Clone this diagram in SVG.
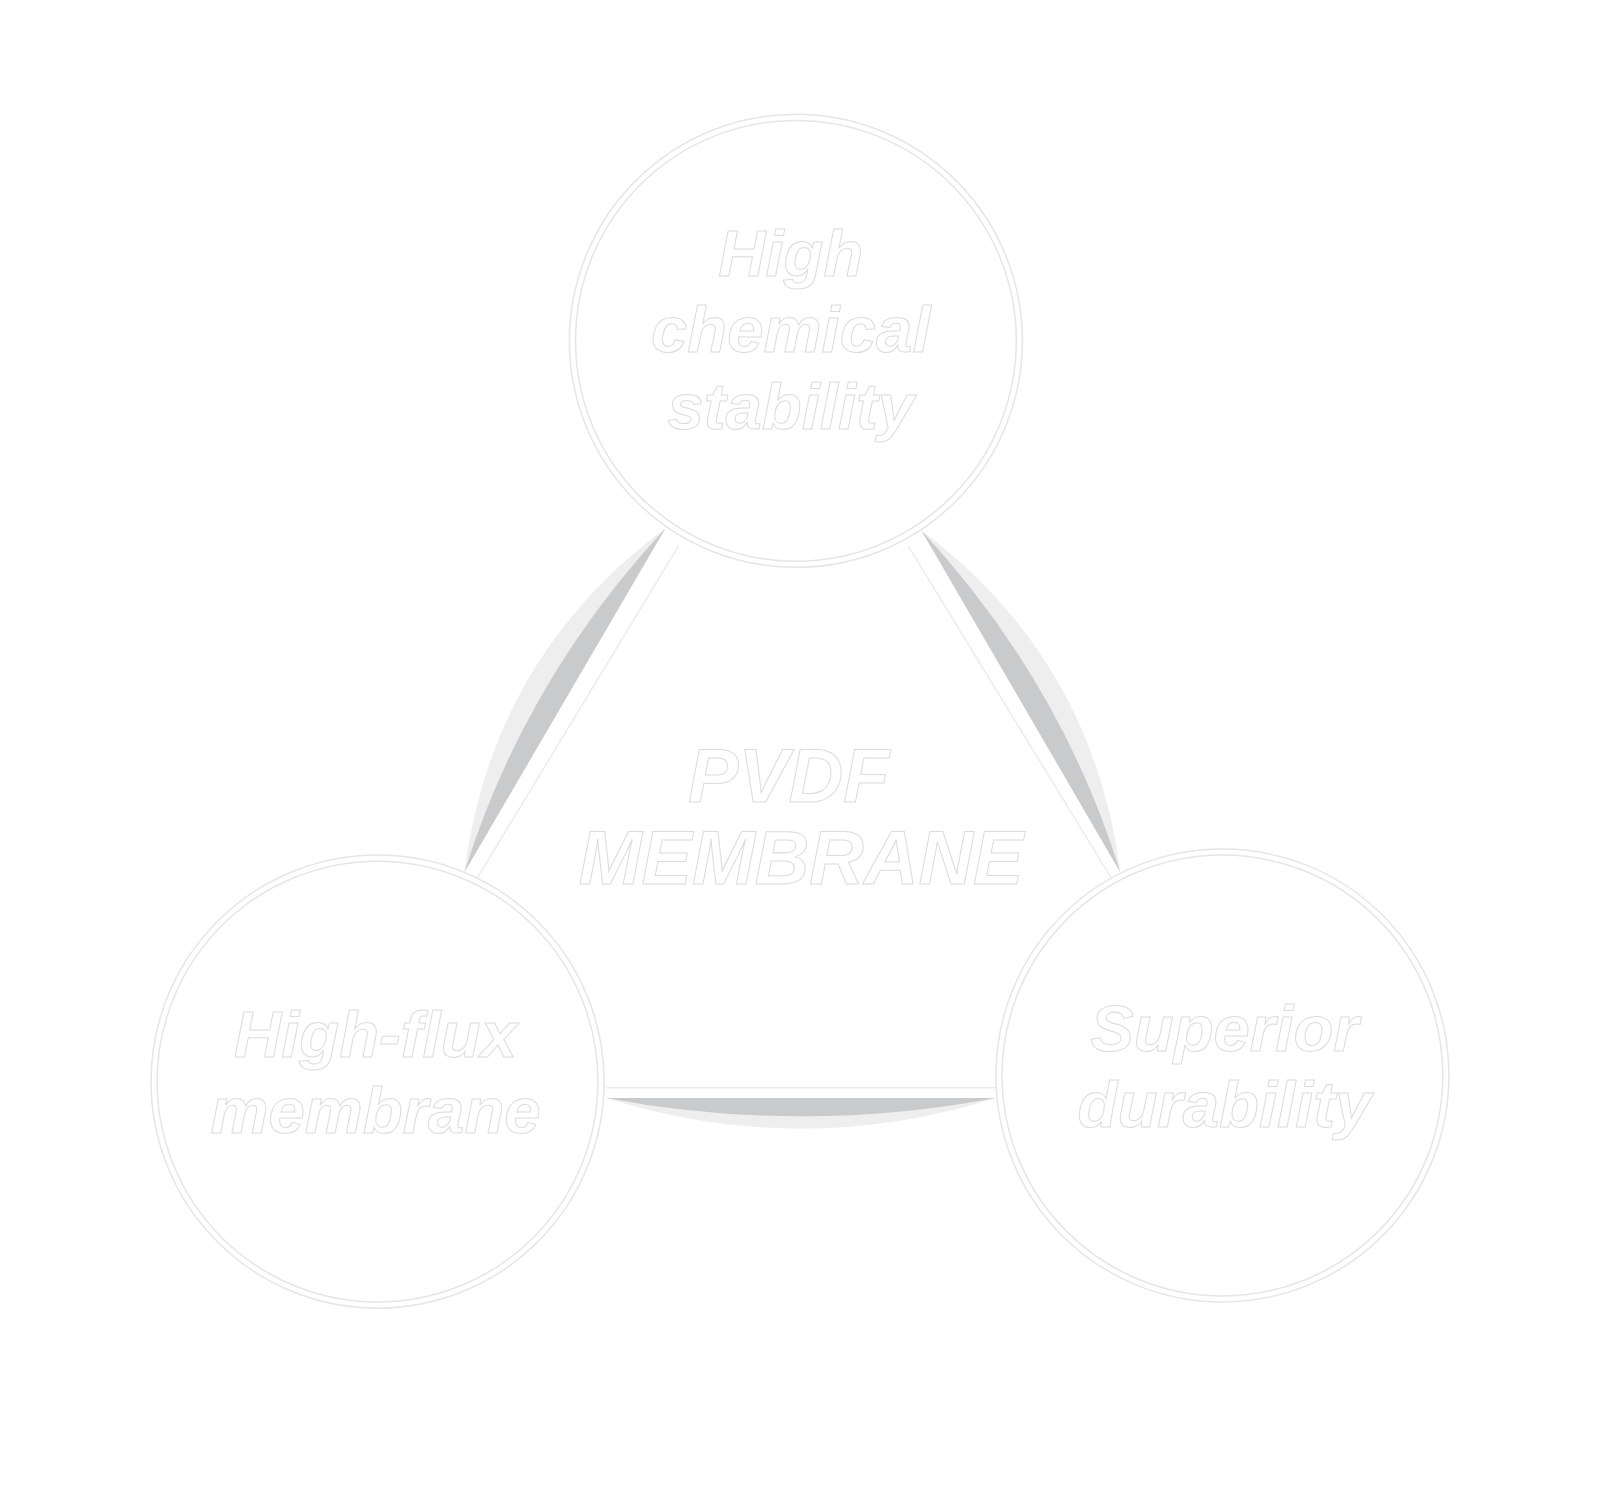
<svg xmlns="http://www.w3.org/2000/svg" width="1600" height="1498" viewBox="0 0 1600 1498">
<style>
.c{fill:#fff;stroke:#e6e6e6;stroke-width:1.5}
.t{font-family:"Liberation Sans",Arial,sans-serif;font-style:italic;font-weight:bold;fill:#fff;stroke:#dcdcdc;stroke-width:1;text-anchor:middle}
.lt{fill:#eeeeee}.dk{fill:#c9cacb}
.e{stroke:#ececec;stroke-width:1.5;fill:none}
</style>
<rect width="1600" height="1498" fill="#fff"/>
<g transform="scale(1.0204)">
<g id="connectors">
<path class="lt" d="M652,518 Q482,644 455,855 Z"/>
<path class="dk" d="M652,518 Q514,666 455,855 Z"/>
<path class="lt" d="M903,520 Q1071,646 1098,855 Z"/>
<path class="dk" d="M903,520 Q1040,668 1098,855 Z"/>
<path class="lt" d="M594,1076 Q785,1136 976,1076 Z"/>
<path class="dk" d="M594,1076 Q785,1112 976,1076 Z"/>
<path class="e" d="M665,535 L465,865 M890,535 L1090,862 M594,1066 L976,1066"/>
</g>
<g id="center"><text class="t" font-size="74" x="773" y="786">PVDF</text><text class="t" font-size="74" x="785" y="866">MEMBRANE</text></g>
<g id="top"><circle class="c" cx="780" cy="334" r="222"/><circle class="c" cx="780" cy="334" r="216"/>
<text class="t" font-size="64" x="775" y="270">High</text><text class="t" font-size="64" x="775" y="345">chemical</text><text class="t" font-size="64" x="775" y="420">stability</text></g>
<g id="left"><circle class="c" cx="370" cy="1060" r="222"/><circle class="c" cx="370" cy="1060" r="216"/>
<text class="t" font-size="64" x="368" y="1036">High-flux</text><text class="t" font-size="64" x="368" y="1110">membrane</text></g>
<g id="right"><circle class="c" cx="1198" cy="1054" r="222"/><circle class="c" cx="1198" cy="1054" r="216"/>
<text class="t" font-size="64" x="1200" y="1030">Superior</text><text class="t" font-size="64" x="1200" y="1104">durability</text></g>
</g>
</svg>
